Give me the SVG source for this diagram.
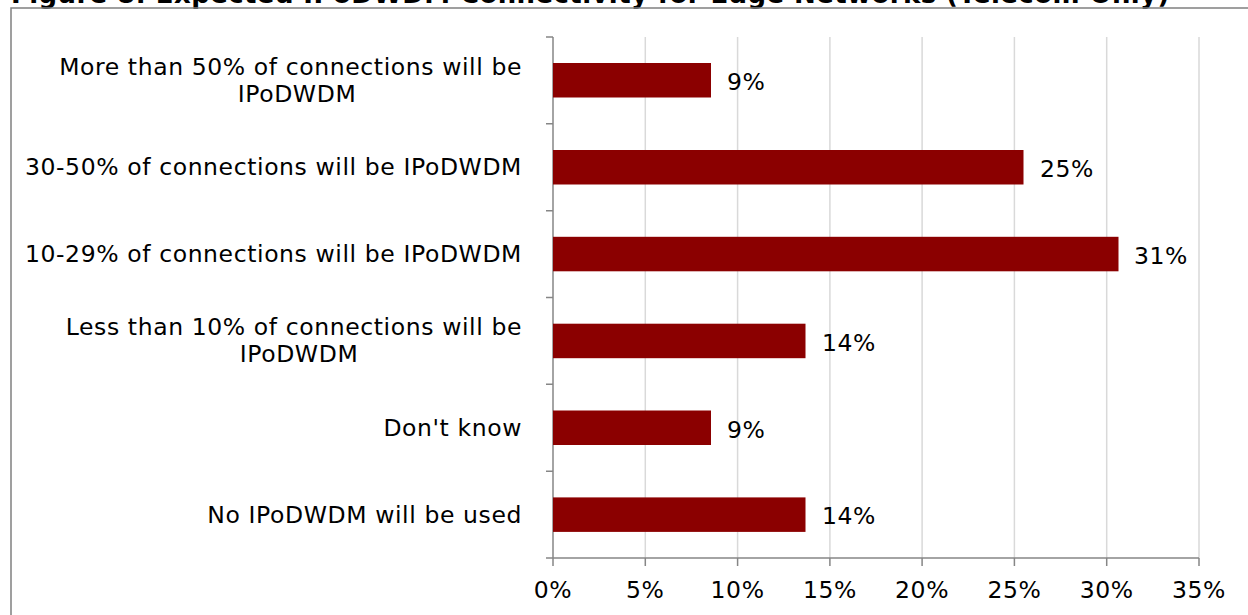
<svg xmlns="http://www.w3.org/2000/svg" width="1248" height="615" viewBox="0 0 1248 615">
<style>
.t{font-family:"DejaVu Sans",Verdana,sans-serif;font-size:23.5px;letter-spacing:0.6px;fill:#000}
.title{font-family:"DejaVu Sans",Verdana,sans-serif;font-size:26px;letter-spacing:0.4px;font-weight:bold;fill:#000}
.grid{stroke:#d9d9d9;stroke-width:1.5}
.axis{stroke:#868686;stroke-width:1.5;fill:none}
.bar{fill:#8b0000}
.e{text-anchor:end}
.m{text-anchor:middle}
</style>
<rect width="1248" height="615" fill="#fff"/>
<text class="title" x="11" y="3">Figure 8: Expected IPoDWDM Connectivity for Edge Networks (Telecom Only)</text>
<rect x="11" y="8" width="1250" height="620" fill="none" stroke="#808080" stroke-width="1.5"/>
<g id="grid">
<line class="grid" x1="645.3" y1="37" x2="645.3" y2="558"/>
<line class="grid" x1="737.6" y1="37" x2="737.6" y2="558"/>
<line class="grid" x1="829.9" y1="37" x2="829.9" y2="558"/>
<line class="grid" x1="922.1" y1="37" x2="922.1" y2="558"/>
<line class="grid" x1="1014.4" y1="37" x2="1014.4" y2="558"/>
<line class="grid" x1="1106.7" y1="37" x2="1106.7" y2="558"/>
<line class="grid" x1="1199" y1="37" x2="1199" y2="558"/>
</g>
<g id="axes">
<path class="axis" d="M553 37V558M546 558H1199M546 37H553M546 123.8H553M546 210.7H553M546 297.5H553M546 384.3H553M546 471.2H553M553 558V566M645.3 558V566M737.6 558V566M829.9 558V566M922.1 558V566M1014.4 558V566M1106.7 558V566M1199 558V566"/>
</g>
<g id="bar1"><rect class="bar" x="553" y="63" width="158" height="34.5"/><text class="t" x="727" y="90">9%</text>
<text class="t e" x="522" y="75">More than 50% of connections will be</text><text class="t m" x="297" y="102">IPoDWDM</text></g>
<g id="bar2"><rect class="bar" x="553" y="150" width="470.5" height="34.5"/><text class="t" x="1040" y="177">25%</text>
<text class="t e" x="522" y="175">30-50% of connections will be IPoDWDM</text></g>
<g id="bar3"><rect class="bar" x="553" y="236.8" width="565.5" height="34.5"/><text class="t" x="1134" y="264">31%</text>
<text class="t e" x="522" y="262">10-29% of connections will be IPoDWDM</text></g>
<g id="bar4"><rect class="bar" x="553" y="323.7" width="252.5" height="34.5"/><text class="t" x="822" y="351">14%</text>
<text class="t e" x="522" y="335">Less than 10% of connections will be</text><text class="t m" x="299" y="362">IPoDWDM</text></g>
<g id="bar5"><rect class="bar" x="553" y="410.5" width="158" height="34.5"/><text class="t" x="727" y="438">9%</text>
<text class="t e" x="522" y="436">Don't know</text></g>
<g id="bar6"><rect class="bar" x="553" y="497.4" width="252.5" height="34.5"/><text class="t" x="822" y="524">14%</text>
<text class="t e" x="522" y="523">No IPoDWDM will be used</text></g>
<g id="xlabels">
<text class="t m" x="553" y="598">0%</text>
<text class="t m" x="645.3" y="598">5%</text>
<text class="t m" x="737.6" y="598">10%</text>
<text class="t m" x="829.9" y="598">15%</text>
<text class="t m" x="922.1" y="598">20%</text>
<text class="t m" x="1014.4" y="598">25%</text>
<text class="t m" x="1106.7" y="598">30%</text>
<text class="t m" x="1199" y="598">35%</text>
</g>
</svg>
